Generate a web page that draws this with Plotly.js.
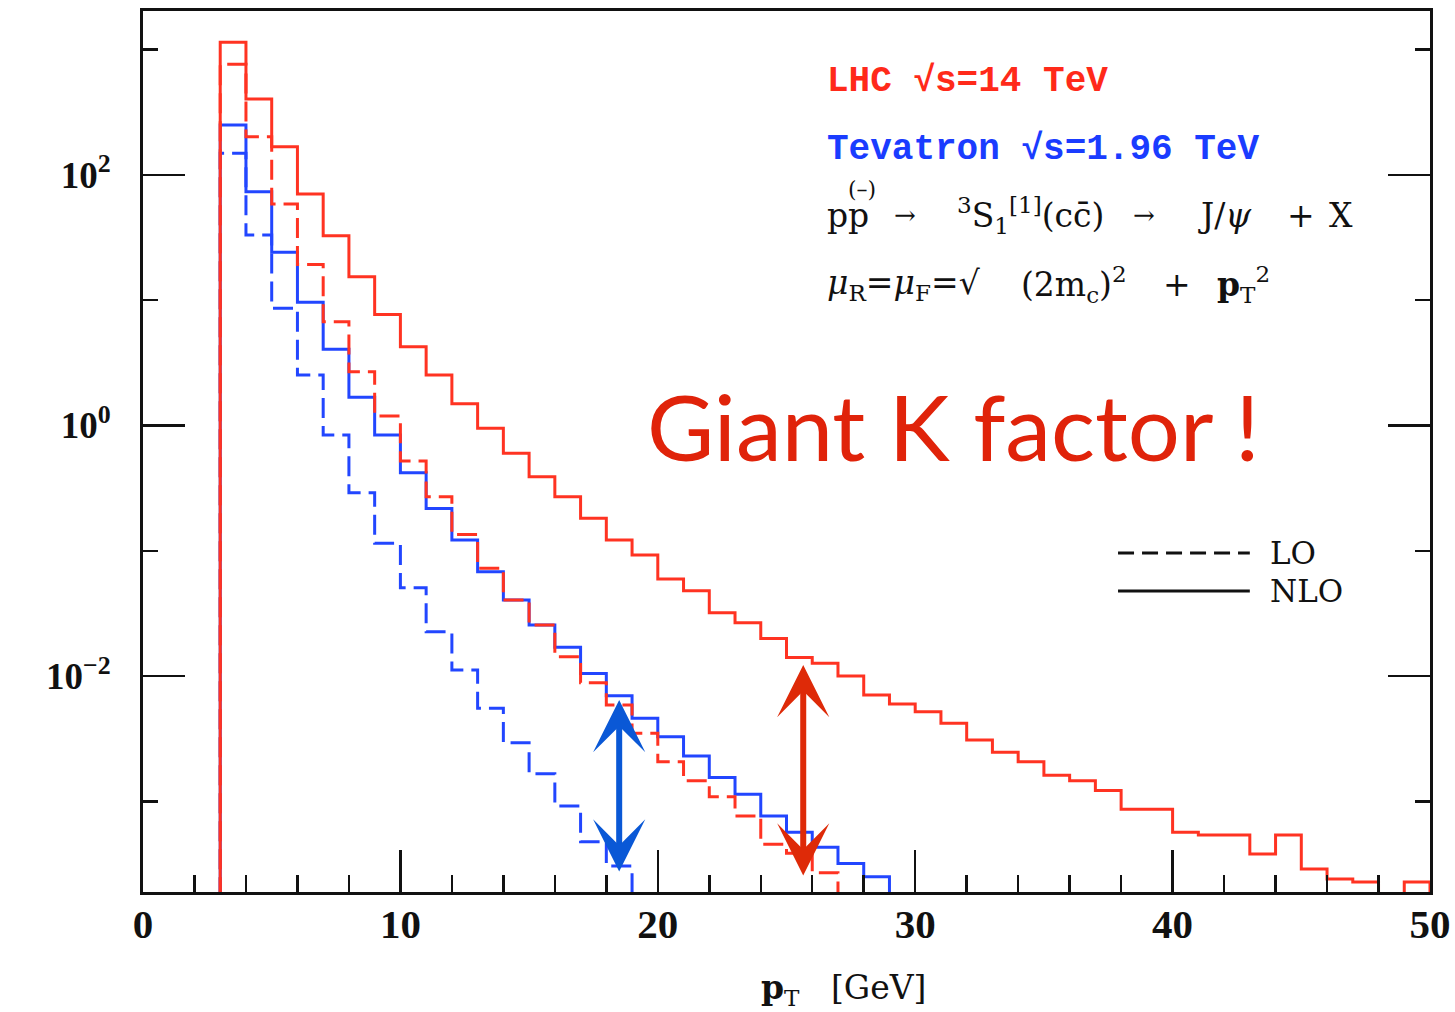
<!DOCTYPE html>
<html>
<head>
<meta charset="utf-8">
<script src="https://cdn.plot.ly/plotly-3.0.1.min.js"></script>
<style>
  html, body { margin: 0; padding: 0; background: #ffffff; }
  #chart { width: 1455px; height: 1012px; }
</style>
</head>
<body>
<div id="chart"></div>
<script>
// J/psi pT spectra via 3S1[1](ccbar), 1 GeV bins starting at pT = 3 GeV
const firstEdge = 3;
const binWidth = 1;

// LHC, sqrt(s) = 14 TeV
const lhcNLO = [1143, 403, 168, 70.4, 32.7, 15.4, 7.7, 4.25, 2.53, 1.49,
                0.95, 0.60, 0.39, 0.27, 0.182, 0.122, 0.0925, 0.0596, 0.048, 0.032,
                0.0267, 0.020, 0.0141, 0.01265, 0.0100, 0.00706, 0.00598, 0.0052, 0.0042, 0.00309,
                0.00247, 0.00207, 0.00162, 0.00146, 0.00122, 0.000865, 0.000865, 0.000567, 0.00054, 0.00054,
                0.00038, 0.00054, 0.000289, 0.00024, 0.000227, 0, 0.000227];
const lhcLO = [763, 202, 58.6, 19.3, 6.73, 2.69, 1.19, 0.521, 0.270, 0.135,
               0.0725, 0.0405, 0.0256, 0.0143, 0.00886, 0.00587, 0.0035, 0.00207, 0.00146, 0.00109,
               0.000764, 0.000455, 0.000385, 0.00027];

// Tevatron, sqrt(s) = 1.96 TeV
const tevNLO = [250, 73.5, 24.1, 9.62, 4.06, 1.68, 0.84, 0.42, 0.218, 0.122,
                0.068, 0.0405, 0.0256, 0.0170, 0.0105, 0.00698, 0.0046, 0.00328, 0.0023, 0.00155,
                0.00114, 0.000764, 0.000567, 0.00043, 0.00032, 0.00025];
const tevLO = [149, 33.1, 8.62, 2.53, 0.84, 0.291, 0.115, 0.0508, 0.0226, 0.0112,
               0.00553, 0.00294, 0.00166, 0.00092, 0.000477, 0.000305];

// K-factor arrows: pT position, NLO end and LO end
const kArrowPt     = [18.5, 25.65];
const kArrowTop    = [0.00644, 0.01227];
const kArrowBottom = [0.000268, 0.000249];

// Axis ticks
const xTickVals = [0, 10, 20, 30, 40, 50];
const yTickVals = [1e-2, 1, 1e2];
const yTickExp = ['\u22122', '0', '2'];
const yMinorVals = [1e-3, 1e-1, 1e1, 1e3];

const RED = '#ff3322';
const BLUE = '#2246ff';
const floorValue = 1e-6; // below the visible range: closes each histogram at the bottom

function stepTrace(values, color, dash) {
  const x = [firstEdge];
  const y = [floorValue];
  values.forEach((v, i) => {
    x.push(firstEdge + i * binWidth);
    y.push(v > 0 ? v : floorValue);
  });
  const end = firstEdge + values.length * binWidth;
  x.push(end); y.push(values[values.length - 1]);
  x.push(end); y.push(floorValue);
  return {
    type: 'scatter', mode: 'lines', x: x, y: y,
    line: { shape: 'hv', color: color, width: 3, dash: dash },
    hoverinfo: 'skip', showlegend: false
  };
}

const traces = [
  stepTrace(tevLO, BLUE, '20px,8px'),
  stepTrace(tevNLO, BLUE, 'solid'),
  stepTrace(lhcLO, RED, '20px,8px'),
  stepTrace(lhcNLO, RED, 'solid')
];

const arrowColors = ['#0a58d6', '#de2a08'];
const arrows = kArrowPt.map((pt, i) => ({
  xref: 'x', yref: 'y', axref: 'x', ayref: 'y',
  x: pt, y: Math.log10(kArrowTop[i]),
  ax: pt, ay: Math.log10(kArrowBottom[i]),
  text: '', showarrow: true,
  arrowside: 'end+start',
  arrowhead: 3, startarrowhead: 3,
  arrowsize: 1.45, startarrowsize: 1.45,
  arrowwidth: 6, arrowcolor: arrowColors[i],
  standoff: 0, startstandoff: 0
}));

const monoFont = 'Liberation Mono, Courier New, monospace';
const serifFont = 'DejaVu Serif, serif';
const tickFont = 'Liberation Serif, Times New Roman, serif';
const ink = '#111111';

function note(text, x, y, font, xanchor) {
  return { xref: 'paper', yref: 'paper', x: x, y: y, text: text, showarrow: false,
           xanchor: xanchor || 'left', yanchor: 'middle', font: font };
}

const f33 = { family: serifFont, size: 33, color: ink };

const textNotes = [
  note('<b>LHC \u221As=14 TeV</b>', 0.530, 0.920, { family: monoFont, size: 36, color: '#ff2a1a' }),
  note('<b>Tevatron \u221As=1.96 TeV</b>', 0.530, 0.8425, { family: monoFont, size: 36, color: '#1a3cff' }),
  // process line
  note('pp', 0.5299, 0.768, f33),
  note('(\u2013)', 0.5587, 0.797, { family: serifFont, size: 22, color: ink }, 'center'),
  note('\u2192', 0.5820, 0.768, { family: serifFont, size: 26, color: ink }),
  note('<sup>3</sup>S<sub>1</sub><sup>[1]</sup>(cc\u0304)', 0.6309, 0.768, f33),
  note('\u2192', 0.7677, 0.768, { family: serifFont, size: 26, color: ink }),
  note('J/<i>\u03C8</i>', 0.8182, 0.768, f33),
  note('+', 0.8873, 0.768, f33),
  note('X', 0.9200, 0.768, f33),
  // scale choice line
  note('<i>\u03BC</i><sub>R</sub>=<i>\u03BC</i><sub>F</sub>=\u221A', 0.5299, 0.689, f33),
  note('(2m<sub>c</sub>)<sup>2</sup>', 0.6807, 0.689, f33),
  note('+', 0.7910, 0.689, f33),
  note('<b>p</b><sub>T</sub><sup>2</sup>', 0.8330, 0.689, f33),
  note('Giant K factor !', 0.390, 0.530, { family: 'Lato, sans-serif', size: 92, color: '#e0230a' }),
  note('LO', 0.874, 0.3848, { family: serifFont, size: 31, color: ink }),
  note('NLO', 0.874, 0.3417, { family: serifFont, size: 31, color: ink })
];

const axisTitle = note('<b>p</b><sub>T</sub>   [GeV]', 0.544, -0.111, { family: serifFont, size: 33, color: ink }, 'center');

const legendKeys = [
  { type: 'line', xref: 'paper', yref: 'paper', x0: 0.7576, x1: 0.860, y0: 0.3848, y1: 0.3848,
    line: { color: ink, width: 3, dash: '16px,8px' } },
  { type: 'line', xref: 'paper', yref: 'paper', x0: 0.7576, x1: 0.860, y0: 0.3417, y1: 0.3417,
    line: { color: ink, width: 3 } }
];

const layout = {
  width: 1455, height: 1012,
  margin: { l: 143, r: 25, t: 11, b: 120 },
  paper_bgcolor: '#ffffff', plot_bgcolor: '#ffffff',
  showlegend: false,
  xaxis: {
    range: [0, 50], showgrid: false, zeroline: false,
    showline: true, linecolor: ink, linewidth: 3, mirror: true,
    ticks: 'inside', ticklen: 42, tickwidth: 2.5, tickcolor: ink,
    tickmode: 'array', tickvals: xTickVals, ticktext: xTickVals.map(String),
    tickfont: { family: tickFont, size: 41, color: ink, weight: 'bold' },
    ticklabelstandoff: -6,
    minor: { dtick: 2, tick0: 0, ticks: 'inside', ticklen: 17, tickwidth: 2.5, tickcolor: ink, showgrid: false }
  },
  yaxis: {
    type: 'log', range: [-3.723, 3.308], showgrid: false, zeroline: false,
    showline: true, linecolor: ink, linewidth: 3, mirror: 'ticks',
    ticks: 'inside', ticklen: 42, tickwidth: 2.5, tickcolor: ink,
    tickmode: 'array', tickvals: yTickVals,
    ticktext: yTickExp.map(e => '10<sup style="font-size:31px">' + e + '</sup>'),
    tickfont: { family: tickFont, size: 37, color: ink, weight: 'bold' },
    ticklabelstandoff: 22,
    minor: { tickmode: 'array', tickvals: yMinorVals, ticks: 'inside', ticklen: 15, tickwidth: 2.5, tickcolor: ink, showgrid: false }
  },
  shapes: legendKeys,
  annotations: textNotes.concat([axisTitle]).concat(arrows)
};

Plotly.newPlot('chart', traces, layout, { staticPlot: true, displayModeBar: false });
</script>
</body>
</html>
